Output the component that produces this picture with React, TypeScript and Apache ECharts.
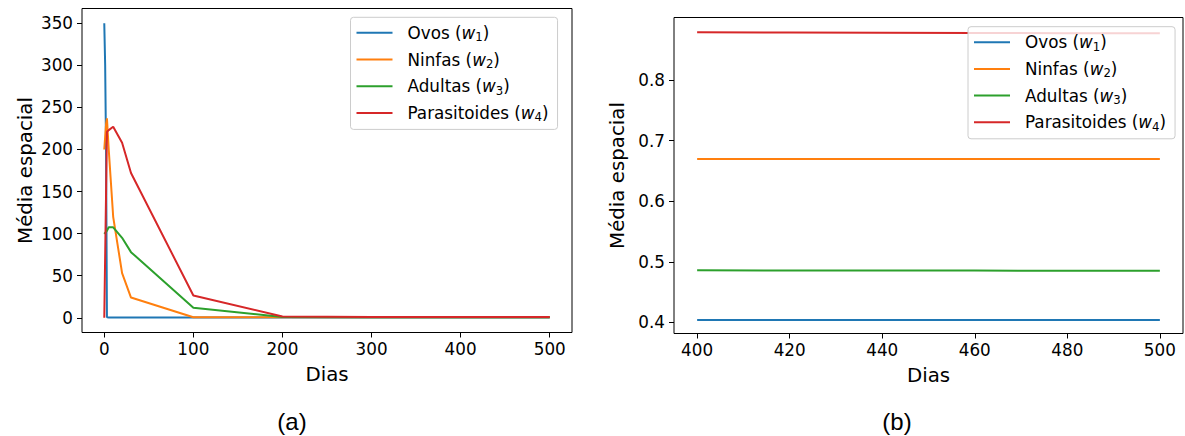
import React, { useEffect, useRef } from "react";
import * as echarts from "echarts";

// ---- data (left panel, full run) ----
const daysA = [0, 1, 2, 3, 5, 10, 20, 30, 100, 200, 300, 400, 500];
const ovosA = [350, 300, 200, 0.5, 0.45, 0.42, 0.41, 0.41, 0.4, 0.4, 0.4, 0.404, 0.404];
const ninfasA = [200, 215, 230, 237, 200, 120, 53, 24, 0.7, 0.67, 0.667, 0.67, 0.67];
const adultasA = [99.6, 101, 102, 103.5, 107.5, 107.5, 95, 78, 12, 1.0, 0.5, 0.486, 0.485];
const parasA = [0, 74, 147, 221, 223, 227, 208, 172, 26.5, 1.5, 0.9, 0.879, 0.8775];

// ---- data (right panel, days 400-500) ----
const daysB = [400, 420, 440, 460, 480, 500];
const ovosB = [0.4038, 0.4038, 0.4037, 0.4037, 0.4037, 0.4037];
const ninfasB = [0.6696, 0.6696, 0.6696, 0.6696, 0.6696, 0.6696];
const adultasB = [0.4859, 0.4857, 0.4855, 0.4854, 0.4853, 0.4852];
const parasB = [0.879, 0.8786, 0.8782, 0.8778, 0.8776, 0.8775];

const ticksXA = [0, 100, 200, 300, 400, 500];
const ticksYA = [0, 50, 100, 150, 200, 250, 300, 350];
const ticksXB = [400, 420, 440, 460, 480, 500];
const ticksYB = [0.4, 0.5, 0.6, 0.7, 0.8];

const names = ["Ovos", "Ninfas", "Adultas", "Parasitoides"];
const subs = ["1", "2", "3", "4"];
const colors = ["#1f77b4", "#ff7f0e", "#2ca02c", "#d62728"];

const FONT = "DejaVu Sans";
const TICK = 16.8;
const LABEL = 19.8;

function pairs(xs: number[], ys: number[]) {
  return xs.map((x, i) => [x, ys[i]]);
}

export default function App() {
  const ref = useRef<HTMLDivElement>(null);
  useEffect(() => {
    if (!ref.current) return;
    const chart = echarts.init(ref.current, undefined, { renderer: "svg" });

    const legendFor = (idx: number, left: number, top: number) => ({
      show: true,
      orient: "vertical",
      left,
      top,
      selectedMode: false,
      data: names.map((n) => ({ name: n + (idx === 0 ? "" : " "), icon: "rect" })),
      itemWidth: 36,
      itemHeight: 2,
      itemGap: 5.7,
      padding: [5, 9, 6, 6],
      backgroundColor: "rgba(255,255,255,0.8)",
      borderColor: "#cccccc",
      borderWidth: 1,
      borderRadius: 3,
      formatter: (name: string) => {
        const i = names.indexOf(name.trim());
        return `{f|${names[i]} (}{w|w}{s|${subs[i]}}{t|)}`;
      },
      textStyle: {
        rich: {
          f: { fontFamily: FONT, fontSize: TICK, color: "#000", lineHeight: 20, padding: [0, 0, 0, 10] },
          t: { fontFamily: FONT, fontSize: TICK, color: "#000", lineHeight: 20 },
          w: { fontFamily: FONT, fontStyle: "italic", fontSize: TICK, color: "#000", lineHeight: 20 },
          s: { fontFamily: FONT, fontSize: 11.7, color: "#000", lineHeight: 11.5, padding: [9, 0, 0, 0] },
        },
      },
    });

    const xAxisFor = (grid: number, min: number, max: number, ticks: number[]) => ({
      type: "value",
      gridIndex: grid,
      min,
      max,
      axisLine: { show: false, onZero: false },
      axisTick: { show: true, customValues: ticks, length: 5, lineStyle: { color: "#000", width: 1 } },
      axisLabel: {
        customValues: ticks,
        fontFamily: FONT,
        fontSize: TICK,
        color: "#000",
        margin: 8,
      },
      splitLine: { show: false },
      name: "Dias",
      nameLocation: "middle",
      nameGap: 32,
      nameTextStyle: { fontFamily: FONT, fontSize: LABEL, color: "#000" },
    });

    const yAxisFor = (grid: number, min: number, max: number, ticks: number[], dec: number) => ({
      type: "value",
      gridIndex: grid,
      min,
      max,
      axisLine: { show: false, onZero: false },
      axisTick: { show: true, customValues: ticks, length: 5, lineStyle: { color: "#000", width: 1 } },
      axisLabel: {
        customValues: ticks,
        fontFamily: FONT,
        fontSize: TICK,
        color: "#000",
        margin: 9,
        formatter: (v: number) => v.toFixed(dec),
      },
      splitLine: { show: false },
      name: "Média espacial",
      nameLocation: "middle",
      nameGap: 47,
      nameTextStyle: { fontFamily: FONT, fontSize: LABEL, color: "#000" },
    });

    const setsA = [ovosA, ninfasA, adultasA, parasA];
    const setsB = [ovosB, ninfasB, adultasB, parasB];

    const series: any[] = [];
    setsA.forEach((ys, i) =>
      series.push({
        type: "line",
        name: names[i],
        xAxisIndex: 0,
        yAxisIndex: 0,
        data: pairs(daysA, ys),
        symbol: "none",
        lineStyle: { color: colors[i], width: 2 },
        itemStyle: { color: colors[i] },
      })
    );
    setsB.forEach((ys, i) =>
      series.push({
        type: "line",
        name: names[i] + " ",
        xAxisIndex: 1,
        yAxisIndex: 1,
        data: pairs(daysB, ys),
        symbol: "none",
        lineStyle: { color: colors[i], width: 2 },
        itemStyle: { color: colors[i] },
      })
    );

    chart.setOption({
      animation: false,
      backgroundColor: "#fff",
      grid: [
        { left: 82, top: 8.5, width: 490, height: 324, show: true, borderColor: "#000", borderWidth: 1, backgroundColor: "transparent" },
        { left: 674, top: 17.5, width: 509, height: 316, show: true, borderColor: "#000", borderWidth: 1, backgroundColor: "transparent" },
      ],
      xAxis: [xAxisFor(0, -25, 525, ticksXA), xAxisFor(1, 395, 505, ticksXB)],
      yAxis: [yAxisFor(0, -17.5, 367.5, ticksYA, 0), yAxisFor(1, 0.3815, 0.9035, ticksYB, 1)],
      legend: [legendFor(0, 350.5, 17.3), legendFor(1, 968, 26.7)],
      series,
      graphic: [
        {
          type: "text",
          x: 292,
          y: 421,
          style: { text: "(a)", fontFamily: "Liberation Sans", fontSize: 24, fill: "#000", align: "center", verticalAlign: "middle" },
        },
        {
          type: "text",
          x: 897,
          y: 421,
          style: { text: "(b)", fontFamily: "Liberation Sans", fontSize: 24, fill: "#000", align: "center", verticalAlign: "middle" },
        },
      ],
    });
    return () => chart.dispose();
  }, []);
  return <div ref={ref} style={{ position: "absolute", left: 0, top: 0, width: 1185, height: 436 }} />;
}
